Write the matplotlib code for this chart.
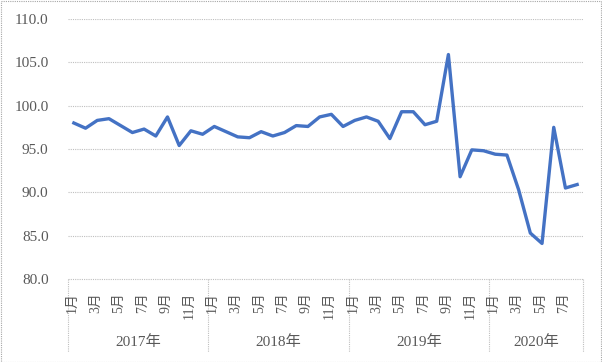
import matplotlib
matplotlib.use("Agg")
import matplotlib.pyplot as plt
from matplotlib.patches import Rectangle

plt.rcParams['font.family'] = ['Liberation Serif', 'Noto Sans CJK JP']

years = ["2017年", "2018年", "2019年", "2020年"]
months_per_year = [12, 12, 12, 8]
month_labels = ["1月", "", "3月", "", "5月", "", "7月", "", "9月", "", "11月", ""]
values = [98.0, 97.4, 98.3, 98.5, 97.7, 96.9, 97.3, 96.5, 98.7, 95.4, 97.1, 96.7,
          97.6, 97.0, 96.4, 96.3, 97.0, 96.5, 96.9, 97.7, 97.6, 98.7, 99.0, 97.6,
          98.3, 98.7, 98.2, 96.2, 99.3, 99.3, 97.8, 98.2, 105.9, 91.8, 94.9, 94.8,
          94.4, 94.3, 90.3, 85.3, 84.1, 97.5, 90.5, 90.9]
yticks = [80, 85, 90, 95, 100, 105, 110]

W, H = 602, 362
fig = plt.figure(figsize=(W / 100, H / 100), dpi=100)
left, right, top, bottom = 68, 583, 19, 279
ax = fig.add_axes([left / W, 1 - bottom / H, (right - left) / W, (bottom - top) / H])

n = len(values)
xs = [i + 0.5 for i in range(n)]
ax.plot(xs, values, color="#4472C4", lw=2.4, solid_joinstyle="round", zorder=3)

ax.set_xlim(0, n)
ax.set_ylim(80, 110)
ax.set_yticks(yticks)
ax.set_yticklabels([f"{v:.1f}" for v in yticks], fontsize=11, color="#595959")
ax.tick_params(axis="y", length=0, pad=14)
ax.set_xticks([])
for s in ax.spines.values():
    s.set_visible(False)
grid_style = dict(color="#BFBFBF", lw=0.8, ls=(0, (1, 1)))
for v in yticks[1:]:
    ax.axhline(v, **grid_style, zorder=1)

# category axis box
ph = bottom - top
box_bottom = -(352 - bottom) / ph
tr = ax.get_xaxis_transform()
ax.plot([0, n], [0, 0], transform=tr, clip_on=False, **grid_style)
start = 0
bounds = [0]
for cnt in months_per_year:
    start += cnt
    bounds.append(start)
for b in bounds:
    ax.plot([b, b], [0, box_bottom], transform=tr, clip_on=False, **grid_style)

# month and year labels
idx = 0
for yr, cnt in zip(years, months_per_year):
    for m in range(cnt):
        lab = month_labels[m]
        if lab:
            ax.text(idx + m + 0.35, -13 / ph, lab, transform=tr, rotation=90,
                    ha="center", va="top", fontsize=10, color="#595959")
    ax.text(idx + cnt / 2, -(342 - bottom) / ph, yr, transform=tr,
            ha="center", va="center", fontsize=11, color="#595959")
    idx += cnt

fig.patches.append(Rectangle((0.5 / W, 0.5 / H), 1 - 1.5 / W, 1 - 1.5 / H,
                             transform=fig.transFigure, fill=False,
                             edgecolor="#A6A6A6", lw=0.8, ls=(0, (1, 1))))

fig.savefig("out.png", dpi=100)
